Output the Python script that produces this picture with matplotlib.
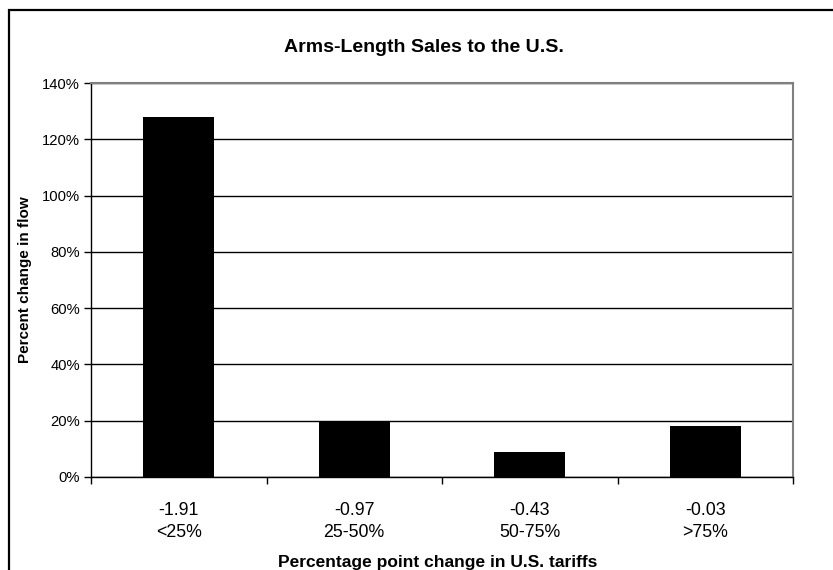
import numpy as np
import matplotlib
matplotlib.use('Agg')
import matplotlib.pyplot as plt
from matplotlib.lines import Line2D

plt.rcParams['font.family'] = ['Liberation Sans', 'DejaVu Sans']

tariff_change = ["-1.91", "-0.97", "-0.43", "-0.03"]
quartiles = ["<25%", "25-50%", "50-75%", ">75%"]
pct_change = [128.0, 20.0, 9.0, 18.0]
y_ticks = [0, 20, 40, 60, 80, 100, 120, 140]

W, H = 833, 570
fig = plt.figure(figsize=(W / 100, H / 100), dpi=100)
ax = fig.add_axes([91 / W, 1 - 477 / H, (793 - 91) / W, (477 - 83) / H])

pos = np.arange(len(pct_change))
ax.bar(pos, pct_change, width=0.405, color='black', zorder=3)

ax.set_xlim(-0.5, len(pct_change) - 0.5)
ax.set_ylim(0, 140)
ax.set_yticks(y_ticks)
ax.set_yticklabels([f"{v}%" for v in y_ticks], fontsize=10.6)
ax.yaxis.grid(True, color='black', lw=1.0, zorder=1)

# category boundaries get the tick marks, centres get the labels
ax.set_xticks(np.arange(len(pct_change) + 1) - 0.5)
ax.set_xticklabels([])
ax.set_xticks(pos, minor=True)
ax.set_xticklabels([f"{a}\n{b}" for a, b in zip(tariff_change, quartiles)],
                   minor=True, fontsize=12.8, linespacing=1.42)
ax.tick_params(axis='x', which='minor', length=0, pad=18)
ax.tick_params(axis='x', which='major', length=5, width=1, direction='out')
ax.tick_params(axis='y', length=5, width=1, direction='out', pad=3)

for s in ['left', 'bottom']:
    ax.spines[s].set_color('black')
    ax.spines[s].set_linewidth(1.0)
for s in ['top', 'right']:
    ax.spines[s].set_color('#808080')
    ax.spines[s].set_linewidth(1.5)

fig.text(424 / W, 1 - 47 / H, "Arms-Length Sales to the U.S.", ha='center', va='center',
         fontsize=14, fontweight='bold')
fig.text(438 / W, 1 - 562 / H, "Percentage point change in U.S. tariffs", ha='center',
         va='center', fontsize=12.5, fontweight='bold')
fig.text(25 / W, 1 - 280 / H, "Percent change in flow", ha='center', va='center',
         rotation=90, fontsize=11, fontweight='bold')

# outer chart frame
fig.add_artist(Line2D([8 / W, 1], [1 - 9.5 / H] * 2, color='black', lw=1.6,
                      solid_capstyle='butt'))
fig.add_artist(Line2D([8.5 / W] * 2, [1 - 9 / H, 0], color='black', lw=1.6,
                      solid_capstyle='butt'))

fig.savefig("out.png", dpi=100)
